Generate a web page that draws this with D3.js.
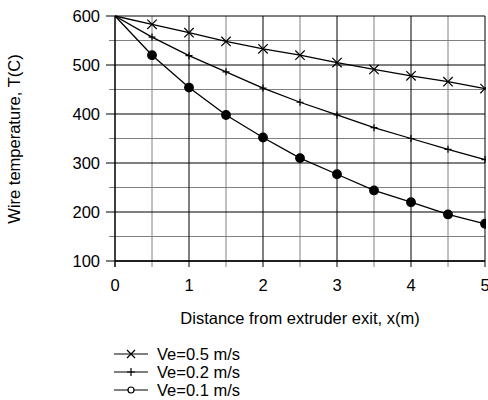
<!DOCTYPE html>
<html><head><meta charset="utf-8">
<script src="https://cdn.jsdelivr.net/npm/d3@7"></script>
<style>body{margin:0;background:#fff}svg{display:block;font-family:"Liberation Sans",Arial,sans-serif}</style>
</head><body><svg id="c" width="488" height="400"></svg>
<script>
const xs = [0,0.5,1,1.5,2,2.5,3,3.5,4,4.5,5];
const ve05 = [600,583,566,548,533,520,505,491,478,466,452];
const ve02 = [600,557,519,486,453,424,398,372,350,328,307];
const ve01 = [600,520,454,398,352,310,277,244,220,195,176];
const seriesNames = ["Ve=0.5 m/s","Ve=0.2 m/s","Ve=0.1 m/s"];
const seriesMarkers = ["cross","plus","circle"];
const xTicks = [0,1,2,3,4,5];
const yTicks = [100,200,300,400,500,600];

const FS = 16.5;
const svg = d3.select("#c");
const L=115,R=485,T=16,B=261;
const x = d3.scaleLinear().domain([0,5]).range([L,R]);
const y = d3.scaleLinear().domain([100,600]).range([B,T]);

svg.append("defs").append("clipPath").attr("id","pc")
  .append("rect").attr("x",L).attr("y",T-1).attr("width",R-L+1).attr("height",B-T+1);

const g = svg.append("g");
// minor grid
d3.range(0.5,5,1).forEach(v=>g.append("line").attr("x1",x(v)).attr("x2",x(v)).attr("y1",T).attr("y2",B+6).attr("stroke","#808080").attr("stroke-width",1));
d3.range(150,600,100).forEach(v=>g.append("line").attr("x1",L-6).attr("x2",R).attr("y1",y(v)).attr("y2",y(v)).attr("stroke","#808080").attr("stroke-width",1));
// major grid
d3.range(1,6,1).forEach(v=>g.append("line").attr("x1",x(v)).attr("x2",x(v)).attr("y1",T).attr("y2",B+6).attr("stroke","#000").attr("stroke-width",1));
yTicks.forEach(v=>g.append("line").attr("x1",L-9).attr("x2",R).attr("y1",y(v)).attr("y2",y(v)).attr("stroke","#000").attr("stroke-width",1));
// axes
g.append("line").attr("x1",L).attr("x2",L).attr("y1",T).attr("y2",B+6).attr("stroke","#000").attr("stroke-width",1.5);
g.append("line").attr("x1",L).attr("x2",R).attr("y1",B).attr("y2",B).attr("stroke","#000").attr("stroke-width",1.5);

// tick labels
yTicks.forEach(v=>svg.append("text").attr("x",L-15).attr("y",y(v)).attr("dy","0.35em").attr("text-anchor","end").attr("font-size",FS).text(v));
xTicks.forEach(v=>svg.append("text").attr("x",x(v)).attr("y",285).attr("dy","0.35em").attr("text-anchor","middle").attr("font-size",FS).text(v));

svg.append("text").attr("x",300).attr("y",318).attr("dy","0.35em").attr("text-anchor","middle").attr("font-size",FS).text("Distance from extruder exit, x(m)");
svg.append("text").attr("transform","translate(14,139) rotate(-90)").attr("dy","0.35em").attr("text-anchor","middle").attr("font-size",FS).text("Wire temperature, T(C)");

function marker(sel, type, cx, cy, s, filled){
  if(type==="cross"){
    sel.append("path").attr("d",`M${cx-s},${cy-s}L${cx+s},${cy+s}M${cx-s},${cy+s}L${cx+s},${cy-s}`).attr("stroke","#000").attr("stroke-width",1.2);
  } else if(type==="plus"){
    sel.append("path").attr("d",`M${cx-s},${cy}L${cx+s},${cy}M${cx},${cy-s}L${cx},${cy+s}`).attr("stroke","#000").attr("stroke-width",1.2);
  } else {
    sel.append("circle").attr("cx",cx).attr("cy",cy).attr("r",s).attr("fill",filled?"#000":"#fff").attr("stroke","#000").attr("stroke-width",1.2);
  }
}

const data = [ve05,ve02,ve01];
const plot = svg.append("g").attr("clip-path","url(#pc)");
const line = d3.line().x((d,i)=>x(xs[i])).y(d=>y(d));
data.forEach((vals,k)=>{
  plot.append("path").attr("d",line(vals)).attr("fill","none").attr("stroke","#000").attr("stroke-width",1.3);
  vals.forEach((v,i)=>{ if(i>0) marker(plot, seriesMarkers[k], x(xs[i]), y(v), k===0?4.7:(k===1?3.5:4.3), true); });
});

// legend
const ly=[354,372,390];
seriesNames.forEach((n,k)=>{
  svg.append("line").attr("x1",114).attr("x2",148).attr("y1",ly[k]).attr("y2",ly[k]).attr("stroke","#000").attr("stroke-width",1.2);
  marker(svg, seriesMarkers[k], 131, ly[k], k===2?3:4, false);
  svg.append("text").attr("x",157).attr("y",ly[k]).attr("dy","0.35em").attr("font-size",FS).text(n);
});
</script></body></html>
